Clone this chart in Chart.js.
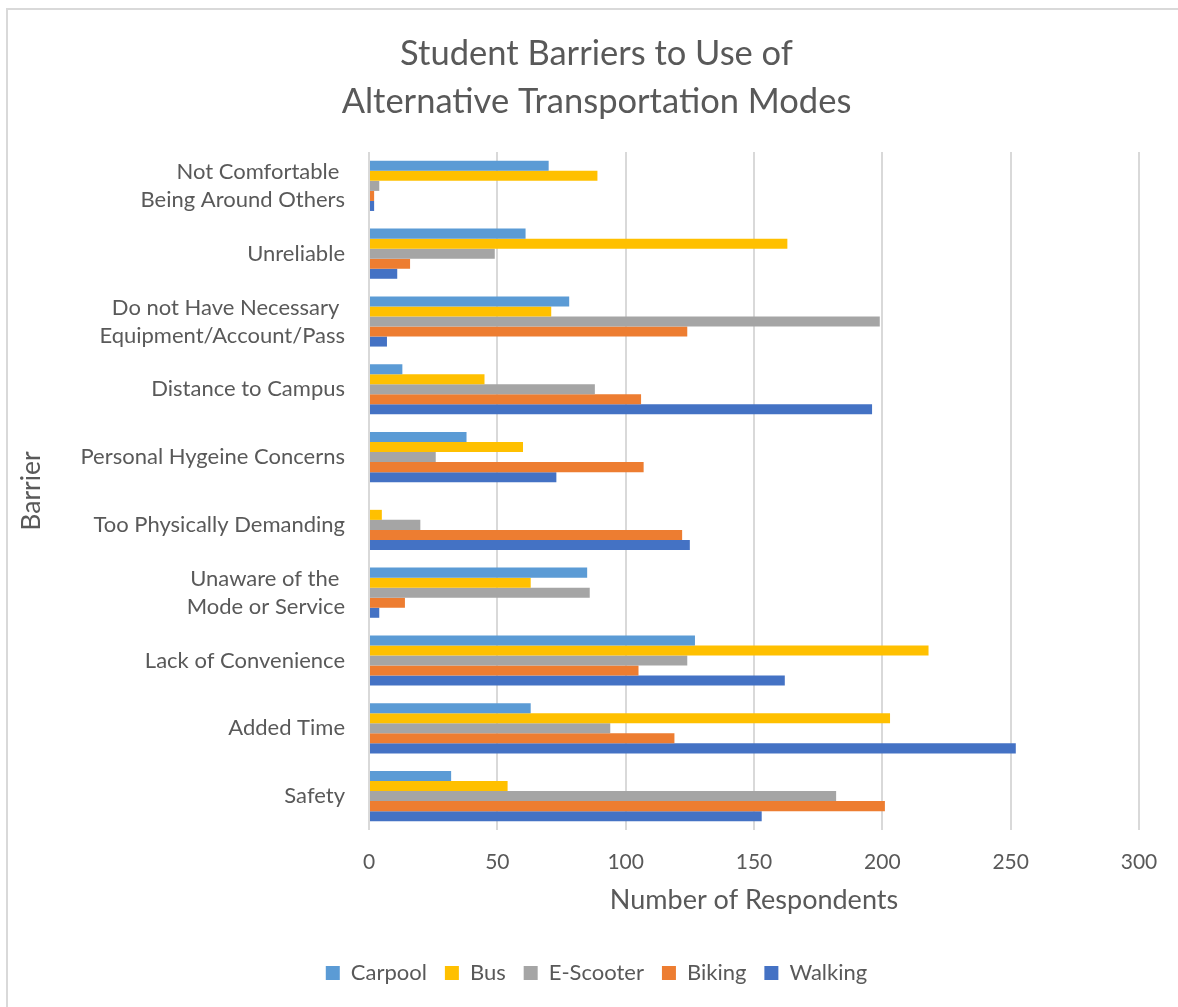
<!DOCTYPE html>
<html>
<head>
<meta charset="utf-8">
<script src="https://cdn.jsdelivr.net/npm/chart.js@4.4.1/dist/chart.umd.min.js"></script>
<style>
  html, body { margin: 0; padding: 0; background: #ffffff; }
  #frame {
    position: absolute; left: 6px; top: 8px; width: 1300px; height: 1100px;
    border-left: 2px solid #d9d9d9; border-top: 2px solid #d9d9d9;
  }
  #wrap { position: absolute; left: 0; top: 0; width: 1178px; height: 1007px; }
</style>
</head>
<body>
<div id="frame"></div>
<div id="wrap"><canvas id="chart" width="1178" height="1007"></canvas></div>
<script>
// Barrier categories, top to bottom
const barriers = [
  ["Not Comfortable ", "Being Around Others"],
  "Unreliable",
  ["Do not Have Necessary ", "Equipment/Account/Pass"],
  "Distance to Campus",
  "Personal Hygeine Concerns",
  "Too Physically Demanding",
  ["Unaware of the ", "Mode or Service"],
  "Lack of Convenience",
  "Added Time",
  "Safety"
];

// Respondents per mode, in the same order as the barriers
const carpool   = [70, 61, 78, 13, 38, 0, 85, 127, 63, 32];
const bus       = [89, 163, 71, 45, 60, 5, 63, 218, 203, 54];
const eScooter  = [4, 49, 199, 88, 26, 20, 86, 124, 94, 182];
const biking    = [2, 16, 124, 106, 107, 122, 14, 105, 119, 201];
const walking   = [2, 11, 7, 196, 73, 125, 4, 162, 252, 153];

const axisTicks = [0, 50, 100, 150, 200, 250, 300];

const FONT = "Lato, 'Open Sans', sans-serif";
const TEXT = "#595959";

const ds = (label, data, color) => ({
  label, data,
  backgroundColor: color,
  borderWidth: 0,
  barPercentage: 1.0,
  categoryPercentage: 0.74
});

new Chart(document.getElementById("chart"), {
  type: "bar",
  data: {
    labels: barriers,
    datasets: [
      ds("Carpool", carpool, "#5B9BD5"),
      ds("Bus", bus, "#FFC000"),
      ds("E-Scooter", eScooter, "#A5A5A5"),
      ds("Biking", biking, "#ED7D31"),
      ds("Walking", walking, "#4472C4")
    ]
  },
  options: {
    indexAxis: "y",
    responsive: false,
    animation: false,
    // wide left padding keeps the title and legend centred on the page
    layout: { padding: { left: 54, right: 39, top: 0, bottom: 13 } },
    plugins: {
      title: {
        display: true,
        text: ["Student Barriers to Use of", "Alternative Transportation Modes"],
        color: TEXT,
        font: { family: FONT, size: 34.5, weight: "normal", lineHeight: 1.391 },
        padding: { top: 30, bottom: 26 }
      },
      legend: {
        position: "bottom",
        labels: {
          color: TEXT,
          font: { family: FONT, size: 22 },
          boxWidth: 14, boxHeight: 14,
          padding: 18
        }
      },
      tooltip: { enabled: false }
    },
    scales: {
      x: {
        min: 0, max: 300,
        afterBuildTicks: (s) => { s.ticks = axisTicks.map(v => ({ value: v })); },
        afterFit: (s) => { s.height = 114; },
        grid: { color: "#d9d9d9", lineWidth: 2, drawTicks: false },
        border: { display: false },
        ticks: { color: TEXT, font: { family: FONT, size: 21 }, padding: 20 },
        title: {
          display: true, text: "Number of Respondents", color: TEXT,
          font: { family: FONT, size: 27 }, padding: { top: 0, bottom: 28 }
        }
      },
      y: {
        grid: { display: false, drawTicks: false },
        border: { display: false },
        afterFit: (s) => { s.width = 315; },
        ticks: { color: TEXT, font: { family: FONT, size: 22, lineHeight: 1.27 }, padding: 24, autoSkip: false },
        title: {
          display: true, text: "Barrier", color: TEXT,
          font: { family: FONT, size: 26.5 }, padding: { top: -38, bottom: 0 }
        }
      }
    }
  }
});
</script>
</body>
</html>
